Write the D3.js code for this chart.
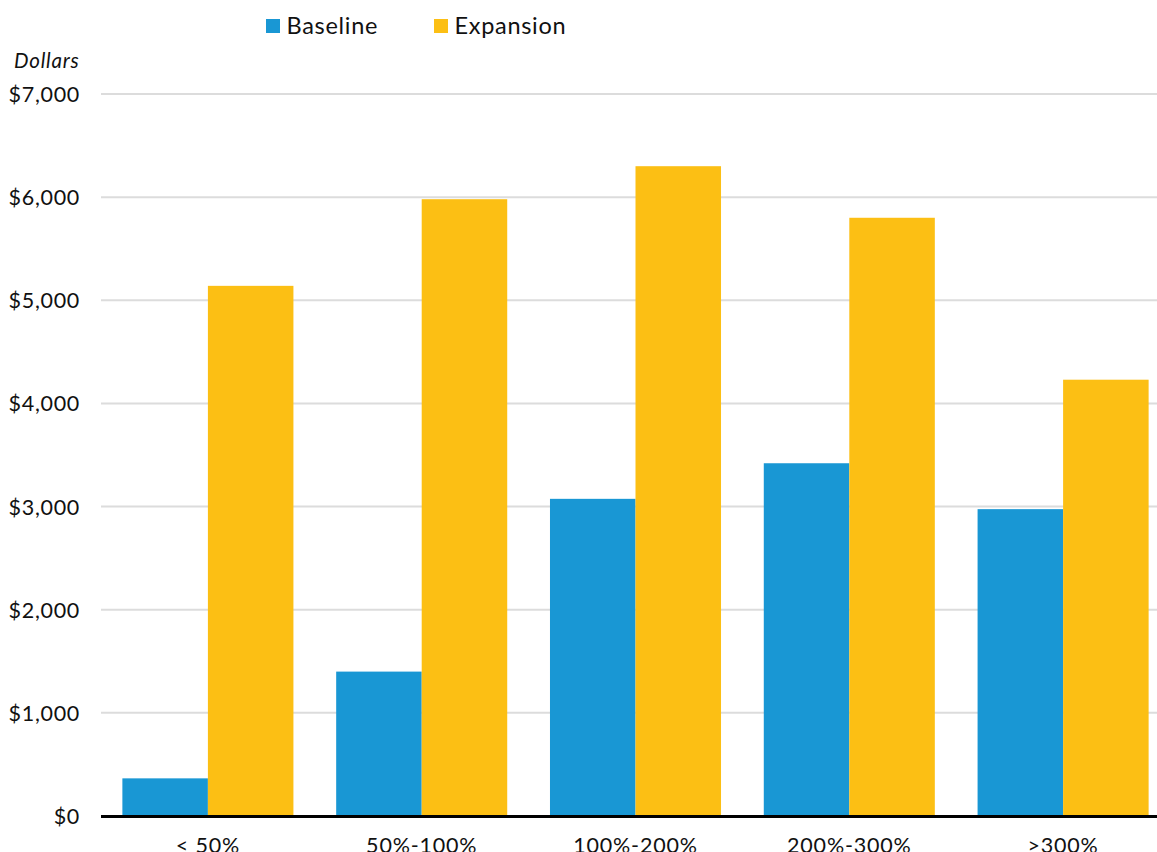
<!DOCTYPE html>
<html><head><meta charset="utf-8">
<script src="https://cdn.jsdelivr.net/npm/d3@7"></script>
<style>
html,body{margin:0;padding:0;background:#fff;overflow:hidden}
text{font-family:Lato,"Open Sans",sans-serif;fill:#111}
</style></head>
<body>
<script>
const categories = ["< 50%", "50%-100%", "100%-200%", "200%-300%", ">300%"];
const seriesNames = ["Baseline", "Expansion"];
const baseline = [365, 1400, 3075, 3420, 2975];
const expansion = [5140, 5980, 6300, 5800, 4230];
const yTicks = [0, 1000, 2000, 3000, 4000, 5000, 6000, 7000];
const colors = ["#1997d4", "#fcbf14"];

const W = 1157, H = 852;
const svg = d3.select("body").append("svg").attr("width", W).attr("height", H);

const x0 = d3.scaleBand().domain(categories).range([101, 1170]).paddingInner(0.2).paddingOuter(0.1);
const x1 = d3.scaleBand().domain(seriesNames).range([0, x0.bandwidth()]);
const y = d3.scaleLinear().domain([0, 7000]).range([816, 94]);

// gridlines
svg.append("g").selectAll("line").data(yTicks.filter(d => d > 0)).join("line")
  .attr("x1", 101).attr("x2", W).attr("y1", d => y(d)).attr("y2", d => y(d))
  .attr("stroke", "#dcdcdc").attr("stroke-width", 2);

// y axis labels
const yAxis = d3.axisLeft(y).tickValues(yTicks).tickSize(0).tickPadding(0)
  .tickFormat(d => "$" + d3.format(",")(d));
const ga = svg.append("g").attr("transform", "translate(80,0)").call(yAxis);
ga.select(".domain").remove();
ga.selectAll("text").attr("font-size", 21.5).attr("letter-spacing", 0.7)
  .attr("font-family", "Lato, sans-serif").attr("fill", "#111").attr("dy", "0.35em");

// bars
const rows = categories.map((c, i) => ({cat: c, vals: [baseline[i], expansion[i]]}));
const g = svg.append("g").selectAll("g").data(rows).join("g")
  .attr("transform", d => `translate(${x0(d.cat)},0)`);
g.selectAll("rect").data(d => d.vals.map((v, j) => ({name: seriesNames[j], v, j}))).join("rect")
  .attr("x", d => x1(d.name)).attr("width", x1.bandwidth())
  .attr("y", d => y(d.v)).attr("height", d => y(0) - y(d.v))
  .attr("fill", d => colors[d.j]);

// x axis
const xAxis = d3.axisBottom(x0).tickSize(0).tickPadding(0);
const gx = svg.append("g").attr("transform", `translate(0,${y(0)})`).call(xAxis);
gx.select(".domain").remove();
gx.selectAll("text").attr("font-size", 21.5).attr("letter-spacing", 0.8)
  .attr("font-family", "Lato, sans-serif").attr("fill", "#111").attr("dy", null).attr("y", 37);
svg.append("line").attr("x1", 101).attr("x2", W).attr("y1", y(0) + 0.5).attr("y2", y(0) + 0.5)
  .attr("stroke", "#000").attr("stroke-width", 3);

// y title
svg.append("text").attr("x", 14).attr("y", 67.5).attr("font-size", 20.5).attr("letter-spacing", 0.8)
  .attr("font-style", "italic").text("Dollars");

// legend
const legX = [266, 434];
seriesNames.forEach((n, i) => {
  svg.append("rect").attr("x", legX[i]).attr("y", 19).attr("width", 14).attr("height", 14).attr("fill", colors[i]);
  svg.append("text").attr("x", legX[i] + 20.5).attr("y", 34.3).attr("font-size", 23.5).attr("letter-spacing", 0.7).text(n);
});
</script>
</body></html>
